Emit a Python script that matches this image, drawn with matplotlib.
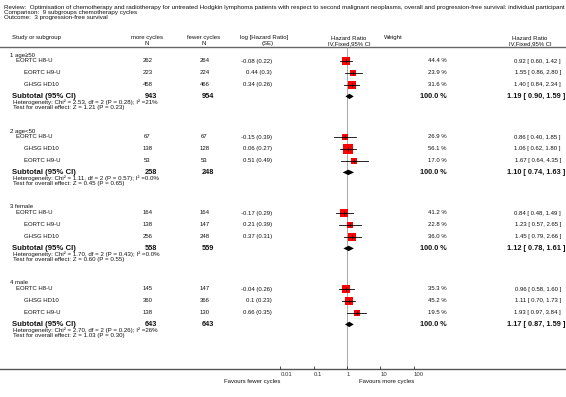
import matplotlib
matplotlib.use('Agg')
import matplotlib.pyplot as plt
from matplotlib.ticker import NullLocator
import numpy as np

plt.rcParams['font.family'] = ['Liberation Sans', 'DejaVu Sans']

title_lines = [
    "Review:  Optimisation of chemotherapy and radiotherapy for untreated Hodgkin lymphoma patients with respect to second malignant neoplasms, overall and progression-free survival: individual participant",
    "Comparison:  9 subgroups chemotherapy cycles",
    "Outcome:  3 progression-free survival",
]

groups = ['1 age\u226550', '2 age<50', '3 female', '4 male']
studies = [['EORTC H8-U', 'EORTC H9-U', 'GHSG HD10'],
           ['EORTC H8-U', 'GHSG HD10', 'EORTC H9-U'],
           ['EORTC H8-U', 'EORTC H9-U', 'GHSG HD10'],
           ['EORTC H8-U', 'GHSG HD10', 'EORTC H9-U']]
n_more = [[262, 223, 458], [67, 138, 53], [164, 138, 256], [145, 360, 138]]
n_fewer = [[264, 224, 466], [67, 128, 53], [164, 147, 248], [147, 366, 130]]
log_hr = [[-0.08, 0.44, 0.34], [-0.15, 0.06, 0.51], [-0.17, 0.21, 0.37], [-0.04, 0.1, 0.66]]
se = [[0.22, 0.3, 0.26], [0.39, 0.27, 0.49], [0.29, 0.39, 0.31], [0.26, 0.23, 0.35]]
weight = [[44.4, 23.9, 31.6], [26.9, 56.1, 17.0], [41.2, 22.8, 36.0], [35.3, 45.2, 19.5]]
hr = [[0.92, 1.55, 1.40], [0.86, 1.06, 1.67], [0.84, 1.23, 1.45], [0.96, 1.11, 1.93]]
ci_lo = [[0.60, 0.86, 0.84], [0.40, 0.62, 0.64], [0.48, 0.57, 0.79], [0.58, 0.70, 0.97]]
ci_hi = [[1.42, 2.80, 2.34], [1.85, 1.80, 4.35], [1.49, 2.65, 2.66], [1.60, 1.73, 3.84]]

tot_more = [943, 258, 558, 643]
tot_fewer = [954, 248, 559, 643]
pooled = [1.19, 1.10, 1.12, 1.17]
pooled_lo = [0.90, 0.74, 0.78, 0.87]
pooled_hi = [1.59, 1.63, 1.61, 1.59]
het_text = [
    "Heterogeneity: Chi\u00b2 = 2.53, df = 2 (P = 0.28); I\u00b2 =21%",
    "Heterogeneity: Chi\u00b2 = 1.11, df = 2 (P = 0.57); I\u00b2 =0.0%",
    "Heterogeneity: Chi\u00b2 = 1.70, df = 2 (P = 0.43); I\u00b2 =0.0%",
    "Heterogeneity: Chi\u00b2 = 2.70, df = 2 (P = 0.26); I\u00b2 =26%",
]
test_text = [
    "Test for overall effect: Z = 1.21 (P = 0.23)",
    "Test for overall effect: Z = 0.45 (P = 0.65)",
    "Test for overall effect: Z = 0.60 (P = 0.55)",
    "Test for overall effect: Z = 1.03 (P = 0.30)",
]

tick_vals = [0.01, 0.1, 1, 10, 100]
tick_labels = ['0.01', '0.1', '1', '10', '100']

# layout in pixels
W, H = 566, 397
FS = 4.3
FSB = 5.3
AX_L, AX_R, AX_B = 280.4, 413.6, 369.0
RULE_Y = 47
G0, GSTEP = 55, 76
study_off = [6, 17.8, 29.6]
sub_off, het_off, test_off = 41.4, 47.2, 52.2

fig = plt.figure(figsize=(W / 100, H / 100), dpi=100)
bg = fig.add_axes([0, 0, 1, 1])
bg.set_xlim(0, W)
bg.set_ylim(H, 0)
bg.axis('off')


def txt(x, y, s, ha='left', bold=False, size=None):
    bg.text(x, y, s, ha=ha, va='center', color='#111111',
            fontsize=size or (FSB if bold else FS),
            fontweight='bold' if bold else 'normal')


for i, line in enumerate(title_lines):
    txt(4, 7 + 5.5 * i, line, size=4.48)

# header
h1, h2 = 38, 43.5
txt(12, h1, 'Study or subgroup')
txt(147, h1, 'more cycles', ha='center')
txt(147, h2, 'N', ha='center')
txt(204, h1, 'fewer cycles', ha='center')
txt(204, h2, 'N', ha='center')
txt(264, h1, 'log [Hazard Ratio]', ha='center')
txt(268, h2, '(SE)', ha='center')
txt(349, h1, 'Hazard Ratio', ha='center')
txt(349, h2, 'IV,Fixed,95% CI', ha='center')
txt(393, h1, 'Weight', ha='center')
txt(530, h1, 'Hazard Ratio', ha='center')
txt(530, h2, 'IV,Fixed,95% CI', ha='center')
bg.plot([0, W], [RULE_Y, RULE_Y], color='#666666', lw=1.0)
bg.plot([0, W], [AX_B, AX_B], color='#555555', lw=1.0)

# forest axes
fax = fig.add_axes([AX_L / W, (H - AX_B) / H, (AX_R - AX_L) / W, AX_B / H])
fax.set_xscale('log')
fax.set_xlim(0.01, 100)
fax.set_ylim(AX_B, 0)
fax.patch.set_visible(False)
for sp in fax.spines.values():
    sp.set_visible(False)
fax.set_xticks(tick_vals)
fax.set_xticklabels(tick_labels, ha='left')
fax.xaxis.set_minor_locator(NullLocator())
fax.set_yticks([])
fax.tick_params(axis='x', direction='in', length=2.2, width=0.6,
                labelsize=FS, pad=2.5, colors='#333333')
fax.plot([1, 1], [RULE_Y, AX_B], color='#999999', lw=0.6, zorder=1)

for g in range(len(groups)):
    y0 = G0 + g * GSTEP
    txt(10, y0, groups[g])
    for k in range(3):
        y = y0 + study_off[k]
        txt(16 if k == 0 else 24, y, studies[g][k])
        txt(147.5, y, str(n_more[g][k]), ha='center')
        txt(204.5, y, str(n_fewer[g][k]), ha='center')
        txt(272, y, f"{log_hr[g][k]:g} ({se[g][k]:g})", ha='right')
        txt(447, y, f"{weight[g][k]:.1f} %", ha='right')
        txt(561, y, f"{hr[g][k]:.2f} [ {ci_lo[g][k]:.2f}, {ci_hi[g][k]:.2f} ]", ha='right')
        side = 1.3 * np.sqrt(weight[g][k]) * 0.72
        fax.plot([ci_lo[g][k], ci_hi[g][k]], [y, y], color='black', lw=0.6, zorder=3)
        fax.plot(hr[g][k], y, marker='s', ms=side, color='red', mec='red', mew=0, zorder=2)
        fax.plot(hr[g][k], y, marker='|', ms=3, color='black', mew=0.6, zorder=4)
    ys = y0 + sub_off
    txt(12, ys, 'Subtotal (95% CI)', bold=True, size=5.6)
    txt(150.5, ys, str(tot_more[g]), ha='center', bold=True)
    txt(207.5, ys, str(tot_fewer[g]), ha='center', bold=True)
    txt(447, ys, '100.0 %', ha='right', bold=True)
    txt(565, ys, f"{pooled[g]:.2f} [ {pooled_lo[g]:.2f}, {pooled_hi[g]:.2f} ]", ha='right', bold=True)
    fax.fill([pooled_lo[g], pooled[g], pooled_hi[g], pooled[g]],
             [ys, ys - 2.7, ys, ys + 2.7], color='black', lw=0, zorder=3)
    txt(13, y0 + het_off, het_text[g], size=4.4)
    txt(13, y0 + test_off, test_text[g], size=4.4)

txt(280, 381.5, 'Favours fewer cycles', ha='right')
txt(414, 381.5, 'Favours more cycles', ha='right')

fig.savefig('out.png', dpi=100)
